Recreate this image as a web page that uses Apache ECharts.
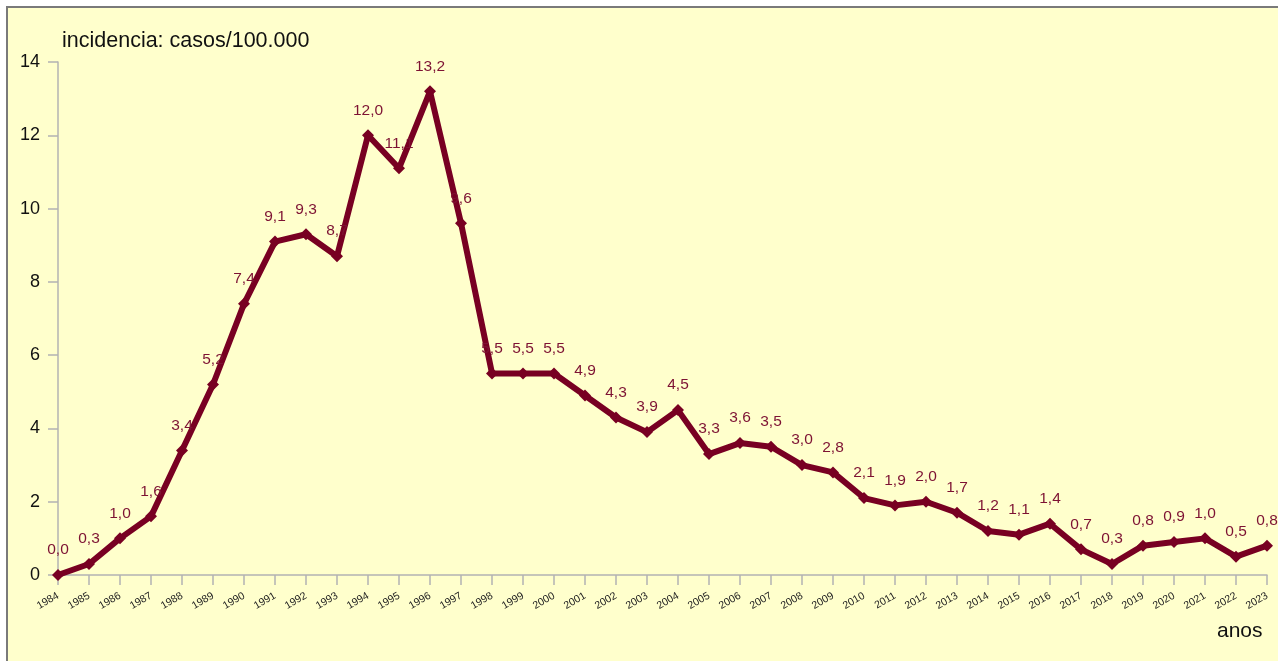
<!DOCTYPE html>
<html>
<head>
<meta charset="utf-8">
<script src="https://cdn.jsdelivr.net/npm/echarts@6/dist/echarts.min.js"></script>
<style>
  html, body { margin: 0; padding: 0; background: #ffffff; }
  #chart { width: 1278px; height: 661px; }
</style>
</head>
<body>
<div id="chart"></div>
<script>
// Years on the category axis
const years = ['1984','1985','1986','1987','1988','1989','1990','1991','1992','1993',
  '1994','1995','1996','1997','1998','1999','2000','2001','2002','2003',
  '2004','2005','2006','2007','2008','2009','2010','2011','2012','2013',
  '2014','2015','2016','2017','2018','2019','2020','2021','2022','2023'];

// Incidence, cases per 100.000 inhabitants
const incidence = [0.0, 0.3, 1.0, 1.6, 3.4, 5.2, 7.4, 9.1, 9.3, 8.7,
  12.0, 11.1, 13.2, 9.6, 5.5, 5.5, 5.5, 4.9, 4.3, 3.9,
  4.5, 3.3, 3.6, 3.5, 3.0, 2.8, 2.1, 1.9, 2.0, 1.7,
  1.2, 1.1, 1.4, 0.7, 0.3, 0.8, 0.9, 1.0, 0.5, 0.8];

// Y axis ticks
const yTicks = [0, 2, 4, 6, 8, 10, 12, 14];

const yAxisTitle = 'incidencia: casos/100.000';
const xAxisTitle = 'anos';

const font = '"Liberation Sans", Arial, sans-serif';
const lineColor = '#780022';
const labelColor = '#7d1233';

const chart = echarts.init(document.getElementById('chart'), null, { renderer: 'canvas' });

chart.setOption({
  animation: false,
  backgroundColor: '#ffffff',
  textStyle: { fontFamily: font },
  graphic: [
    {
      type: 'rect', z: -10, silent: true,
      shape: { x: 7, y: 7, width: 1290, height: 680 },
      style: { fill: '#ffffcc', stroke: '#7a7a7a', lineWidth: 2 }
    },
    {
      type: 'text', left: 62, top: 30, silent: true,
      style: { text: yAxisTitle, font: '21.5px ' + font, fill: '#111111' }
    },
    {
      type: 'text', left: 1217, top: 621, silent: true,
      style: { text: xAxisTitle, font: '21px ' + font, fill: '#111111' }
    }
  ],
  grid: { left: 58, right: 11, top: 62, bottom: 86, containLabel: false },
  xAxis: {
    type: 'category',
    data: years,
    boundaryGap: false,
    axisLine: { show: true, lineStyle: { color: '#b3b3b3', width: 1.5 } },
    axisTick: { show: true, inside: false, length: 10, lineStyle: { color: '#b3b3b3', width: 1.5 }, alignWithLabel: true },
    axisLabel: {
      interval: 0, rotate: 30, margin: 20,
      fontSize: 10.5, color: '#222222', fontFamily: font
    },
    splitLine: { show: false }
  },
  yAxis: {
    type: 'value',
    min: yTicks[0],
    max: yTicks[yTicks.length - 1],
    interval: 2,
    axisLine: { show: true, lineStyle: { color: '#b3b3b3', width: 1.5 } },
    axisTick: { show: true, inside: false, length: 10, lineStyle: { color: '#b3b3b3', width: 1.5 } },
    axisLabel: { margin: 18, fontSize: 18, color: '#111111', fontFamily: font },
    splitLine: { show: false }
  },
  series: [{
    type: 'line',
    data: incidence,
    symbol: 'diamond',
    symbolSize: 12,
    showAllSymbol: true,
    lineStyle: { color: lineColor, width: 6 },
    itemStyle: { color: lineColor },
    label: {
      show: true,
      position: 'top',
      distance: 11,
      fontSize: 15.5,
      color: labelColor,
      fontFamily: font,
      formatter: p => p.value.toFixed(1).replace('.', ',')
    },
    z: 3
  }]
});
</script>
</body>
</html>
